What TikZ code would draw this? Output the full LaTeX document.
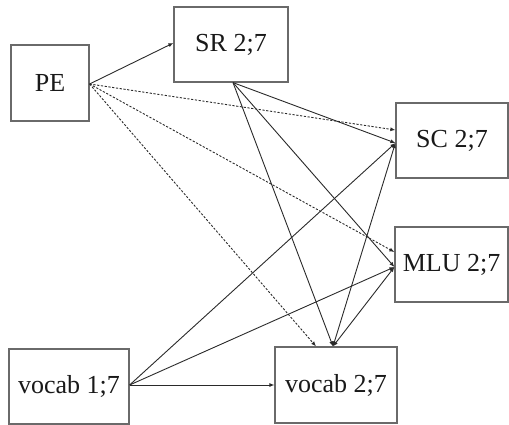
\documentclass[tikz,border=0pt]{standalone}
\usepackage{fontspec}
\setmainfont{Liberation Serif}
\usetikzlibrary{arrows.meta}
\definecolor{boxgray}{HTML}{6A6A6A}
\definecolor{linegray}{HTML}{2A2A2A}
\begin{document}
\begin{tikzpicture}[x=1pt,y=-1pt,
  box/.style={draw=boxgray, line width=1.2pt, inner sep=0pt, minimum height=75pt,
    text=black!90, font=\fontsize{26}{31}\selectfont},
  arr/.style={draw=linegray, line width=0.9pt, -{Latex[length=5pt,width=4pt]}},
  darr/.style={arr, dash pattern=on 2.2pt off 1.6pt},
  biarr/.style={draw=linegray, line width=0.9pt, {Latex[length=5pt,width=4pt]}-{Latex[length=5pt,width=4pt]}}]
\useasboundingbox (0,0) rectangle (509,425);
\node[box, minimum width=78pt, minimum height=76pt] (pe) at (50,83) {PE};
\node[box, minimum width=114pt] (sr) at (231,44.5) {SR 2;7};
\node[box, minimum width=112pt] (sc) at (452,140.5) {SC 2;7};
\node[box, minimum width=113pt] (mlu) at (451.5,264.5) {MLU 2;7};
\node[box, minimum width=122pt, minimum height=76pt] (vb) at (336,385) {vocab 2;7};
\node[box, minimum width=120pt] (va) at (69,386.5) {vocab 1;7};
% anchor points
\coordinate (peo) at ([yshift=-1pt]pe.east);
\coordinate (sri) at ([yshift=1.5pt]sr.west);
\coordinate (sro) at ([xshift=2pt]sr.south);
\coordinate (scs) at ([yshift=-2.5pt]sc.west);
\coordinate (scd) at ([yshift=10.5pt]sc.west);
\coordinate (mls) at ([yshift=-2.5pt]mlu.west);
\coordinate (mld) at ([yshift=12.5pt]mlu.west);
\coordinate (vbs) at ([xshift=-3pt]vb.north);
\coordinate (vbd) at ([xshift=-20pt]vb.north);
\coordinate (vao) at ([yshift=1.5pt]va.east);
% connectors
\draw[arr] (peo) -- (sri);
\draw[darr] (peo) -- (scd);
\draw[darr] (peo) -- (mld);
\draw[darr] (peo) -- (vbd);
\draw[arr] (sro) -- (scs);
\draw[arr] (sro) -- (mls);
\draw[arr] (sro) -- (vbs);
\draw[arr] (vao) -- (scs);
\draw[arr] (vao) -- (mls);
\draw[arr] (vao) -- (vb.west);
\draw[biarr] (vbs) -- (scs);
\draw[biarr] (vbs) -- (mls);
\end{tikzpicture}
\end{document}
